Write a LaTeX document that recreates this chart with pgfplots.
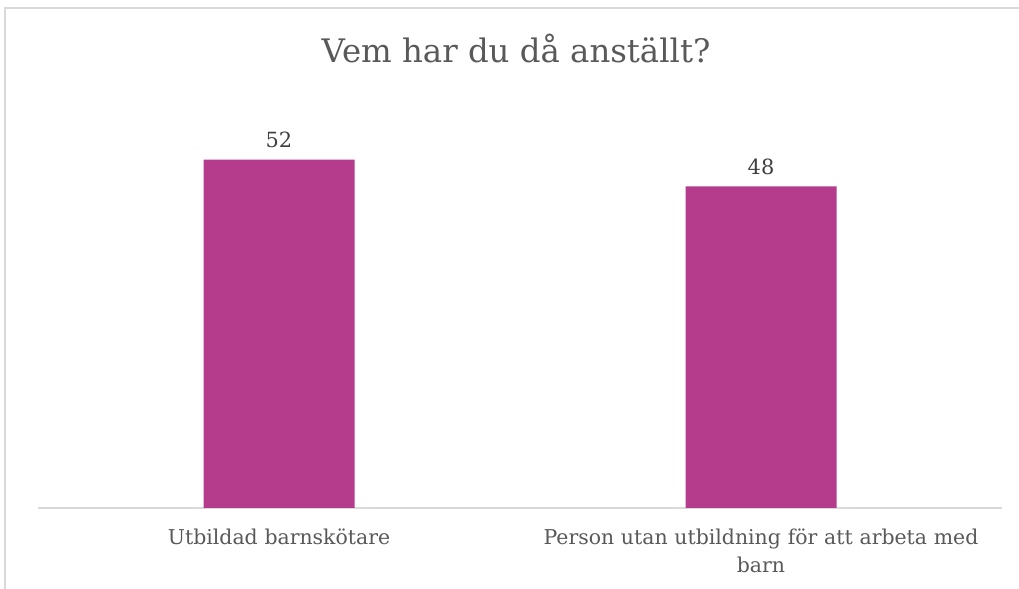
\documentclass[border=0pt]{standalone}
\usepackage{pgfplots}
\pgfplotsset{compat=1.18}
\usepackage{fontspec}
\setmainfont{DejaVu Serif}
\definecolor{barc}{HTML}{B53B8C}
\definecolor{txt}{HTML}{595959}
\definecolor{valc}{HTML}{404040}
\definecolor{gridc}{HTML}{D9D9D9}
\begin{document}
\begin{tikzpicture}
\fill[white] (0,0) rectangle (1019bp,589bp);
\useasboundingbox (0,0) rectangle (1019bp,589bp);
\draw[gridc, line width=1.5bp] (5bp,0) -- (5bp,581bp) -- (1019bp,581bp);
\node[txt, font=\fontsize{32.5}{36}\selectfont] at (516bp,540bp) {Vem har du då anställt?};
\begin{axis}[
  at={(38bp,81bp)}, anchor=south west,
  scale only axis, width=964bp, height=402bp,
  xmin=-0.5, xmax=1.5, ymin=0, ymax=60,
  axis x line*=bottom, axis y line=none,
  x axis line style={gridc, line width=1.5bp, -},
  xtick={0,1}, major tick length=0pt,
  xticklabels={Utbildad barnskötare, {Person utan utbildning för att arbeta med\\barn}},
  xticklabel style={txt, font=\fontsize{20.5}{28}\selectfont, text width=520bp, align=center, yshift=-17bp},
  ybar, bar width=151bp,
  nodes near coords,
  nodes near coords style={valc, font=\fontsize{21}{24}\selectfont, yshift=8bp},
  /pgf/number format/assume math mode=true,
]
\addplot[fill=barc, draw=none] coordinates {(0,52) (1,48)};
\end{axis}
\end{tikzpicture}
\end{document}
